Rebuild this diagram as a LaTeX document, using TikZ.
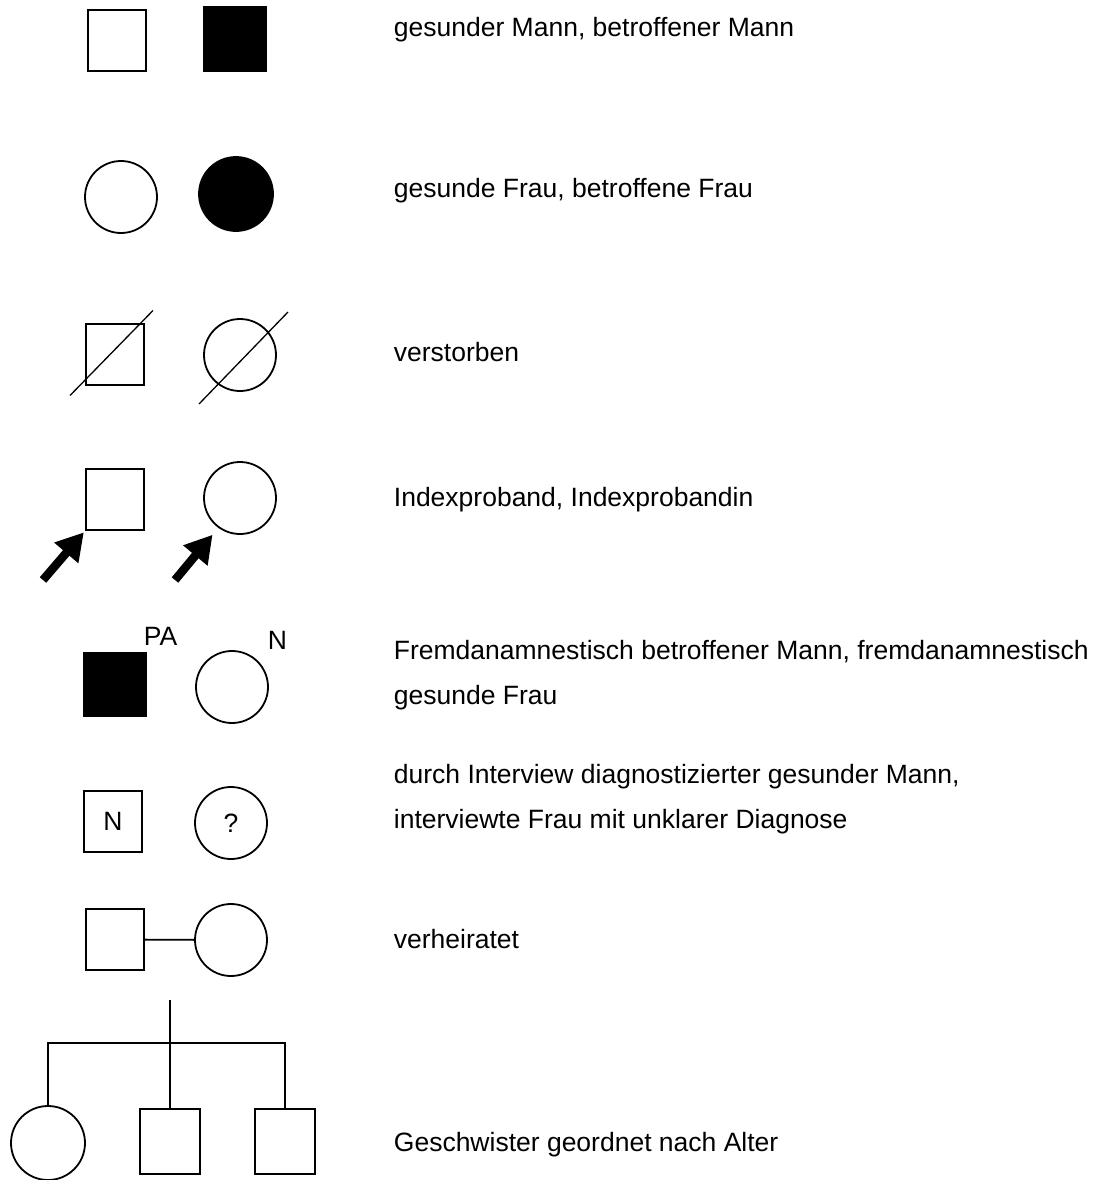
\documentclass[tikz,border=0pt]{standalone}
\usepackage{fontspec}
\setmainfont{Liberation Sans}
\usetikzlibrary{arrows.meta, calc}

\begin{document}
\begin{tikzpicture}[x=1pt, y=-1pt, line width=1.8pt, font=\fontsize{26.5}{45}\selectfont,
    male/.style={draw, rectangle, minimum width=58pt, minimum height=61pt, inner sep=0pt},
    female/.style={draw, circle, minimum size=72pt, inner sep=0pt},
    affected/.style={fill=black, minimum width=62pt, minimum height=64pt},
    legend/.style={anchor=base west, inner sep=0pt},
    legendtwo/.style={anchor=west, inner sep=0pt, align=left},
    pointer/.style={-{Triangle[length=27pt, width=30pt]}, line width=8.5pt},
    slash/.style={line width=1.3pt}]
  \useasboundingbox (0,0) rectangle (1107,1180);

  % healthy / affected
  \node[male] (mhealthy) at (117,40.5) {};
  \node[male, affected] (maffected) at (235,39) {};
  \node[legend] (txtmale) at (393,37) {gesunder Mann, betroffener Mann};

  \node[female] (fhealthy) at (121,197) {};
  \node[female, fill=black, minimum size=74pt] (faffected) at (236,194) {};
  \node[legend] (txtfemale) at (393,197) {gesunde Frau, betroffene Frau};

  % deceased
  \node[male] (sqdead) at (115,354.5) {};
  \draw[slash] ($(sqdead.center)+(-45,41)$) -- ($(sqdead.center)+(38,-44)$);
  \node[female] (cdead) at (240,355) {};
  \draw[slash] ($(cdead.center)+(-41,49)$) -- ($(cdead.center)+(48,-43)$);
  \node[legend] (txtdead) at (393,361) {verstorben};

  % index cases
  \node[male] (sqidx) at (115,499.5) {};
  \node[female] (cidx) at (240,498) {};
  \coordinate (tailm) at (43,580);
  \coordinate (tailf) at (175,580);
  \draw[pointer, shorten >=2pt] (tailm) -- (sqidx.south west);
  \draw[pointer, shorten >=9pt] (tailf) -- (cidx.234);
  \node[legend] (txtidx) at (393,506) {Indexproband, Indexprobandin};

  % by proxy
  \node[male, affected] (sqpa) at (115,684.5) {};
  \node[legend] (pa) at (143,645) {PA};
  \node[female] (cn) at (232,687) {};
  \node[legend] (nlab) at (267,649) {N};
  \node[legendtwo] (txtproxy) at (393,675.6)
    {Fremdanamnestisch betroffener Mann, fremdanamnestisch\\gesunde Frau};

  % interview
  \node[male] (sqn) at (113,821.5) {N};
  \node[female] (cq) at (231,823) {?};
  \node[legendtwo] (txtinterview) at (393,799.6)
    {durch Interview diagnostizierter gesunder Mann,\\interviewte Frau mit unklarer Diagnose};

  % married
  \node[male] (husb) at (115,939.5) {};
  \node[female] (wife) at (231,940) {};
  \draw (husb) -- (wife);
  \node[legend] (txtmarried) at (393,948) {verheiratet};

  % siblings
  \coordinate (sibtop) at (170,1000);
  \coordinate (sibbar) at (170,1043);
  \node[female, minimum size=74pt] (sis) at (48,1143) {};
  \node[male, minimum width=60pt, minimum height=65pt] (bro1) at (170,1141.5) {};
  \node[male, minimum width=60pt, minimum height=65pt] (bro2) at (285,1141.5) {};
  \draw (sibtop) -- (bro1.north);
  \draw (sis.north) |- (sibbar) -| (bro2.north);
  \node[legend] (txtsibs) at (393,1151) {Geschwister geordnet nach Alter};
\end{tikzpicture}
\end{document}
